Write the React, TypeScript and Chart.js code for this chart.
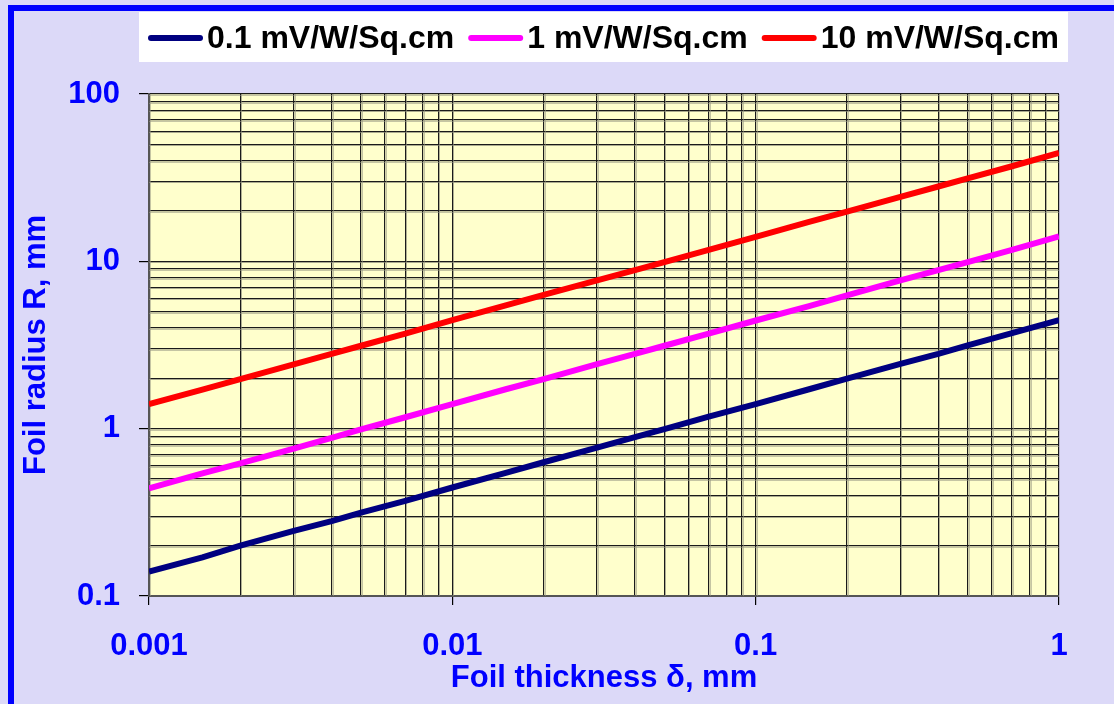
import React, { useEffect, useRef } from "react";
import { Chart, registerables } from "chart.js";

Chart.register(...registerables);

const thickness = [0.001, 0.0015, 0.002, 0.003, 0.004, 0.005, 0.007, 0.01, 0.015, 0.02, 0.03, 0.04, 0.05, 0.07, 0.1, 0.15, 0.2, 0.3, 0.4, 0.5, 0.7, 1];
const r01 = [0.14, 0.17, 0.2, 0.245, 0.28, 0.315, 0.37, 0.445, 0.545, 0.63, 0.77, 0.89, 0.995, 1.18, 1.4, 1.72, 1.99, 2.44, 2.8, 3.15, 3.72, 4.45];
const r1 = [0.44, 0.54, 0.62, 0.76, 0.88, 0.99, 1.17, 1.4, 1.72, 1.98, 2.43, 2.8, 3.13, 3.7, 4.43, 5.4, 6.26, 7.7, 8.85, 9.9, 11.7, 14.1];
const r10 = [1.4, 1.71, 1.98, 2.42, 2.8, 3.13, 3.7, 4.45, 5.45, 6.3, 7.7, 8.85, 9.9, 11.7, 14.0, 17.2, 19.8, 24.3, 28.0, 31.3, 37.0, 44.5];
const seriesLabels = ["0.1 mV/W/Sq.cm", "1 mV/W/Sq.cm", "10 mV/W/Sq.cm"];
const seriesColors = ["#000080", "#ff00ff", "#ff0000"];
const xTickLabels = ["0.001", "0.01", "0.1", "1"];
const yTickLabels = ["0.1", "1", "10", "100"];

const FONT = "'Liberation Sans', Arial, sans-serif";

function logTicks(min: number, max: number) {
  const out: { value: number; major: boolean }[] = [];
  let dec = min;
  while (dec < max * 0.999) {
    for (let s = 1; s <= 9; s++) {
      const v = parseFloat((s * dec).toPrecision(6));
      out.push({ value: v, major: s === 1 });
    }
    dec = parseFloat((dec * 10).toPrecision(6));
  }
  out.push({ value: max, major: true });
  return out;
}

function fmt(v: number, labels: string[]) {
  const s = labels.find((l) => Math.abs(parseFloat(l) - v) < v * 1e-6);
  return s ?? "";
}

const bgPlugin = {
  id: "bgPlugin",
  beforeDraw(chart: any) {
    const { ctx, chartArea } = chart;
    ctx.save();
    ctx.fillStyle = "#ffffcc";
    ctx.fillRect(chartArea.left, chartArea.top, chartArea.right - chartArea.left, chartArea.bottom - chartArea.top);
    ctx.restore();
  },
  beforeDatasetsDraw(chart: any) {
    const { ctx, chartArea, scales } = chart;
    ctx.save();
    ctx.strokeStyle = "rgba(150,150,130,0.55)";
    ctx.lineWidth = 1;
    ctx.beginPath();
    scales.y.ticks.forEach((t: any) => {
      const y = Math.round(scales.y.getPixelForValue(t.value)) + 1.5;
      if (y < chartArea.bottom - 1) {
        ctx.moveTo(chartArea.left, y);
        ctx.lineTo(chartArea.right, y);
      }
    });
    scales.x.ticks.forEach((t: any) => {
      const x = Math.round(scales.x.getPixelForValue(t.value)) + 1.5;
      if (x < chartArea.right - 1) {
        ctx.moveTo(x, chartArea.top);
        ctx.lineTo(x, chartArea.bottom);
      }
    });
    ctx.stroke();
    ctx.restore();
  },
  afterDraw(chart: any) {
    const { ctx } = chart;
    ctx.save();
    ctx.fillStyle = "#ffffff";
    ctx.fillRect(139, 12, 929, 50);
    ctx.font = `bold 32px ${FONT}`;
    ctx.textBaseline = "middle";
    ctx.textAlign = "left";
    let x = 149;
    const y = 38;
    chart.data.datasets.forEach((ds: any) => {
      ctx.strokeStyle = ds.borderColor;
      ctx.lineWidth = 6;
      ctx.lineCap = "round";
      ctx.beginPath();
      ctx.moveTo(x + 2, y);
      ctx.lineTo(x + 51, y);
      ctx.stroke();
      x += 58;
      ctx.fillStyle = "#000000";
      ctx.fillText(ds.label, x, y + 1);
      x += ctx.measureText(ds.label).width + 15;
    });
    ctx.restore();
  },
};

export default function App() {
  const ref = useRef<HTMLCanvasElement>(null);
  useEffect(() => {
    if (!ref.current) return;
    const chart = new Chart(ref.current, {
      type: "line",
      data: {
        datasets: [r01, r1, r10].map((arr, i) => ({
          label: seriesLabels[i],
          data: thickness.map((t, j) => ({ x: t, y: arr[j] })),
          borderColor: seriesColors[i],
          backgroundColor: seriesColors[i],
          borderWidth: 6,
          pointRadius: 0,
          tension: 0,
          fill: false,
        })),
      },
      options: {
        animation: false,
        responsive: false,
        maintainAspectRatio: false,
        layout: { padding: { left: 0, right: 55, top: 94, bottom: 0 } },
        plugins: { legend: { display: false }, tooltip: { enabled: false } },
        scales: {
          x: {
            type: "logarithmic",
            min: 0.001,
            max: 1,
            afterBuildTicks: (scale: any) => {
              scale.ticks = logTicks(0.001, 1);
            },
            afterFit: (scale: any) => {
              scale.height = 108;
            },
            border: { color: "#555555", width: 2 },
            grid: {
              color: "#1a1a1a",
              lineWidth: 1.2,
              tickLength: 9,
              tickColor: (c: any) => (c.tick && c.tick.major ? "#000000" : "rgba(0,0,0,0)"),
            },
            ticks: {
              autoSkip: false,
              maxRotation: 0,
              color: "#0000ff",
              font: { family: FONT, size: 31, weight: "bold" },
              padding: 23,
              callback: (v: any) => fmt(Number(v), xTickLabels),
            },
            title: {
              display: true,
              text: "Foil thickness δ, mm",
              color: "#0000ff",
              font: { family: FONT, size: 31, weight: "bold" },
              padding: { top: 0, bottom: 7 },
            },
          },
          y: {
            type: "logarithmic",
            min: 0.1,
            max: 100,
            afterBuildTicks: (scale: any) => {
              scale.ticks = logTicks(0.1, 100);
            },
            afterFit: (scale: any) => {
              scale.width = 149;
            },
            border: { color: "#555555", width: 2 },
            grid: {
              color: "#1a1a1a",
              lineWidth: 1.2,
              tickLength: 10,
              tickColor: (c: any) => (c.tick && c.tick.major ? "#000000" : "rgba(0,0,0,0)"),
            },
            ticks: {
              autoSkip: false,
              color: "#0000ff",
              font: { family: FONT, size: 31, weight: "bold" },
              padding: 19,
              callback: (v: any) => fmt(Number(v), yTickLabels),
            },
            title: {
              display: true,
              text: "Foil radius R, mm",
              color: "#0000ff",
              font: { family: FONT, size: 31, weight: "bold" },
              padding: { top: 18, bottom: 0 },
            },
          },
        },
      },
      plugins: [bgPlugin],
    } as any);
    return () => chart.destroy();
  }, []);

  return (
    <div style={{ position: "fixed", left: 0, top: 0, width: 1114, height: 704, background: "#dcd9f8", overflow: "hidden" }}>
      <div
        style={{
          position: "absolute",
          left: 8,
          top: 5,
          width: 1106,
          height: 699,
          boxSizing: "border-box",
          borderTop: "6px solid #0000ff",
          borderLeft: "6px solid #0000ff",
        }}
      />
      <canvas ref={ref} width={1114} height={704} style={{ position: "absolute", left: 0, top: 0, display: "block" }} />
    </div>
  );
}
